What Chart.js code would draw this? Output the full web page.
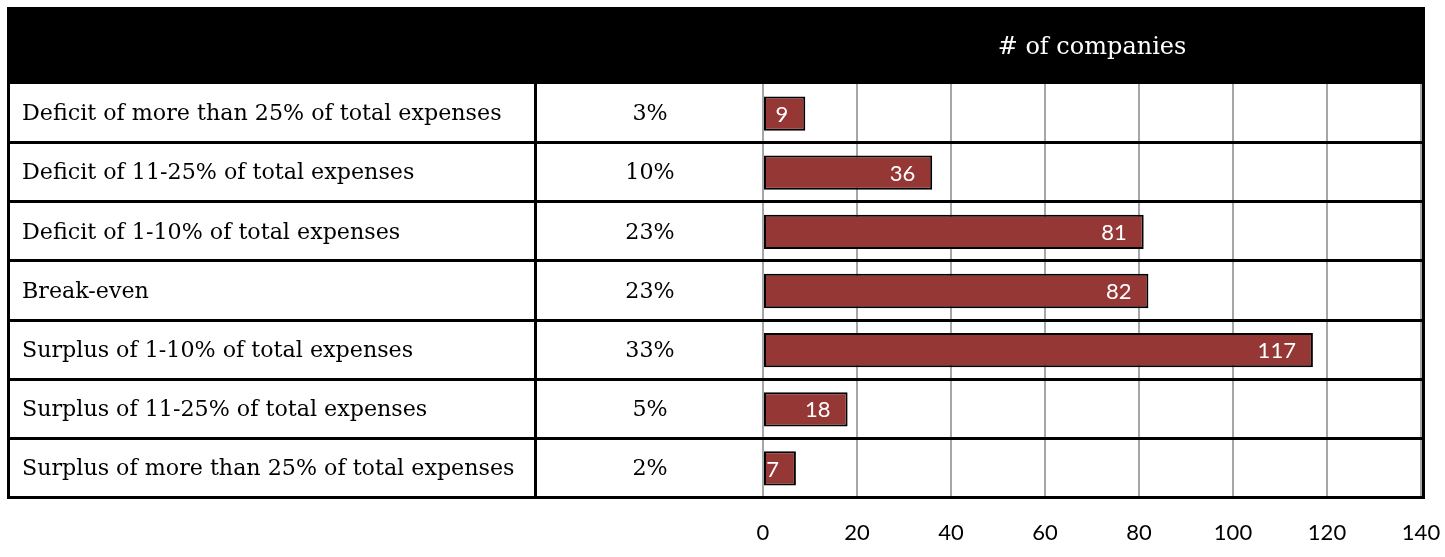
<!DOCTYPE html>
<html>
<head>
<meta charset="utf-8">
<script src="https://cdn.jsdelivr.net/npm/chart.js@4"></script>
<style>
    html, body { margin: 0; padding: 0; background: #ffffff; overflow: hidden; }
    canvas { display: block; }
</style>
</head>
<body>
<canvas id="chartEmpresas" width="1445" height="557"></canvas>
<script>
// --- DATOS ---
const categorias = [
    'Deficit of more than 25% of total expenses',
    'Deficit of 11-25% of total expenses',
    'Deficit of 1-10% of total expenses',
    'Break-even',
    'Surplus of 1-10% of total expenses',
    'Surplus of 11-25% of total expenses',
    'Surplus of more than 25% of total expenses'
];
const porcentajes = ['3%', '10%', '23%', '23%', '33%', '5%', '2%'];
const empresas = [9, 36, 81, 82, 117, 18, 7];
const tituloColumna = '# of companies';
const ejeMin = 0, ejeMax = 140, ejePaso = 20;

// --- PLUGIN: cabecera, filas y columnas de la tabla ---
const tablaPlugin = {
    id: 'tabla',
    beforeDraw(chart) {
        const { ctx, chartArea } = chart;
        ctx.save();
        // franja negra de cabecera
        ctx.fillStyle = '#000000';
        ctx.fillRect(7, 7, 1418, chartArea.top - 7);
        ctx.fillStyle = '#ffffff';
        ctx.font = '24px "DejaVu Serif"';
        ctx.textAlign = 'center';
        ctx.textBaseline = 'middle';
        ctx.fillText(tituloColumna, (chartArea.left + chartArea.right) / 2, 48);

        // textos de cada fila
        const yEscala = chart.scales.y;
        ctx.fillStyle = '#000000';
        ctx.font = '22.2px "DejaVu Serif"';
        categorias.forEach((cat, i) => {
            const y = yEscala.getPixelForValue(i);
            ctx.textAlign = 'left';
            ctx.fillText(cat, 22, y + 1);
            ctx.textAlign = 'center';
            ctx.fillText(porcentajes[i], 650, y + 1);
        });
        ctx.restore();
    },
    beforeDatasetsDraw(chart) {
        const { ctx, chartArea } = chart;
        const { top, bottom } = chartArea;
        const alto = (bottom - top) / categorias.length;
        ctx.save();
        ctx.strokeStyle = '#000000';
        ctx.lineWidth = 3;
        // líneas horizontales entre filas
        for (let i = 1; i <= categorias.length; i++) {
            const y = Math.round(top + i * alto) - 0.5;
            ctx.beginPath();
            ctx.moveTo(7, y);
            ctx.lineTo(1425, y);
            ctx.stroke();
        }
        // bordes verticales
        [8.5, 535.5].forEach(x => {
            ctx.beginPath();
            ctx.moveTo(x, top);
            ctx.lineTo(x, bottom);
            ctx.stroke();
        });
        ctx.beginPath();
        ctx.moveTo(1423.5, 7);
        ctx.lineTo(1423.5, bottom);
        ctx.stroke();
        ctx.restore();
    },
    afterDatasetsDraw(chart) {
        // valor dentro de cada barra
        const { ctx } = chart;
        const meta = chart.getDatasetMeta(0);
        ctx.save();
        ctx.fillStyle = '#ffffff';
        ctx.font = '22px Lato';
        ctx.textAlign = 'right';
        ctx.textBaseline = 'middle';
        meta.data.forEach((barra, i) => {
            ctx.fillText(String(empresas[i]), barra.x - 17, barra.y + 1);
        });
        ctx.restore();
    }
};

const ctx = document.getElementById('chartEmpresas').getContext('2d');
new Chart(ctx, {
    type: 'bar',
    data: {
        labels: categorias,
        datasets: [{
            label: tituloColumna,
            data: empresas,
            backgroundColor: '#953735',
            borderColor: '#000000',
            borderWidth: 2,
            borderSkipped: false,
            categoryPercentage: 1,
            barPercentage: 0.58
        }]
    },
    options: {
        indexAxis: 'y',
        responsive: false,
        animation: false,
        layout: { padding: { left: 763, right: 24, top: 84, bottom: 11 } },
        plugins: { legend: { display: false }, tooltip: { enabled: false } },
        scales: {
            x: {
                min: ejeMin, max: ejeMax,
                ticks: { stepSize: ejePaso, padding: 22, color: '#000000', font: { family: 'Lato', size: 22 } },
                grid: { color: '#a6a6a6', lineWidth: 2, drawTicks: false },
                border: { display: false },
                // el eje no debe reservar margen extra a los lados
                afterFit(scale) {
                    scale.paddingLeft = 0;
                    scale.paddingRight = 0;
                    scale.height = 48;
                }
            },
            y: { display: false }
        }
    },
    plugins: [tablaPlugin]
});
</script>
</body>
</html>
